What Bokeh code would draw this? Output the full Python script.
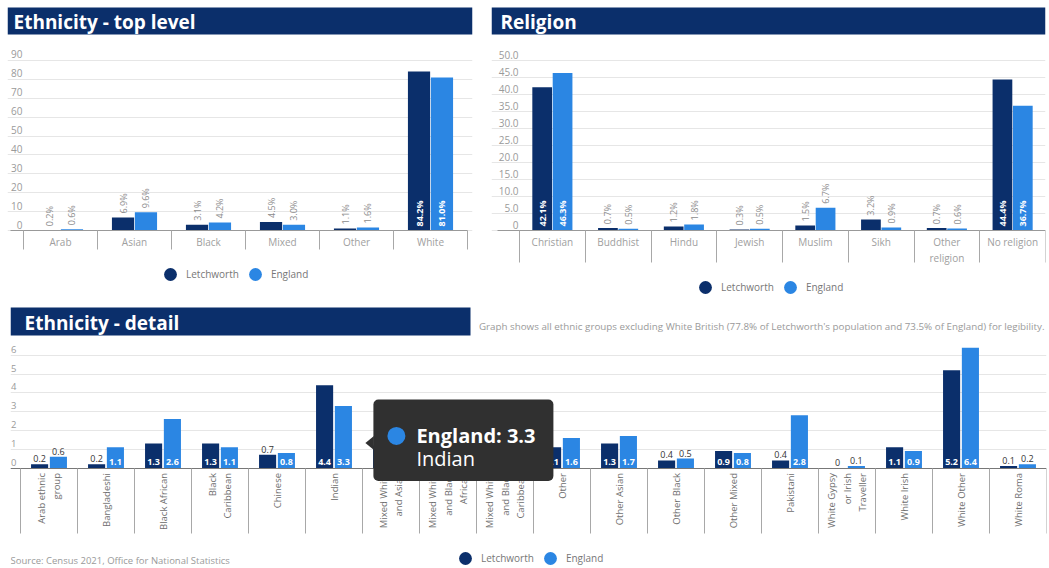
import math
from bokeh.plotting import figure
from bokeh.models import (Range1d, LinearAxis, FixedTicker, Grid, ColumnDataSource, LabelSet, Label,
                          BoxAnnotation, PolyAnnotation, Legend, LegendItem, NumeralTickFormatter)
from bokeh.layouts import column, row
from bokeh.transform import dodge
from bokeh.core.properties import value
from bokeh.embed import file_html
from bokeh.resources import INLINE

FONT = "Open Sans"
NAVY = "#0b2f6b"
BLUE = "#2b86e3"
GRID = "#e6e6e6"

# ---------------- data ----------------
top_categories = ["Arab", "Asian", "Black", "Mixed", "Other", "White"]
top_letchworth = [0.2, 6.9, 3.1, 4.5, 1.1, 84.2]
top_england = [0.6, 9.6, 4.2, 3.0, 1.6, 81.0]
top_y_ticks = [0, 10, 20, 30, 40, 50, 60, 70, 80, 90]

religion_categories = ["Christian", "Buddhist", "Hindu", "Jewish", "Muslim", "Sikh",
                       "Other\nreligion", "No religion"]
religion_letchworth = [42.1, 0.7, 1.2, 0.3, 1.5, 3.2, 0.7, 44.4]
religion_england = [46.3, 0.5, 1.8, 0.5, 6.7, 0.9, 0.6, 36.7]
religion_y_ticks = [0, 5, 10, 15, 20, 25, 30, 35, 40, 45, 50]

detail_categories = ["Arab ethnic\ngroup", "Bangladeshi", "Black African", "Black\nCaribbean",
                     "Chinese", "Indian", "Mixed White\nand Asian", "Mixed White\nand Black\nAfrican",
                     "Mixed White\nand Black\nCaribbean", "Other", "Other Asian", "Other Black",
                     "Other Mixed", "Pakistani", "White Gypsy\nor Irish\nTraveller", "White Irish",
                     "White Other", "White Roma"]
detail_letchworth = [0.2, 0.2, 1.3, 1.3, 0.7, 4.4, 1.2, 0.6, 1.7, 1.1, 1.3, 0.4, 0.9, 0.4, 0.0, 1.1, 5.2, 0.1]
detail_england = [0.6, 1.1, 2.6, 1.1, 0.8, 3.3, 0.8, 0.5, 0.9, 1.6, 1.7, 0.5, 0.8, 2.8, 0.1, 0.9, 6.4, 0.2]
detail_y_ticks = [0, 1, 2, 3, 4, 5, 6]

series_names = ["Letchworth", "England"]
hover_category = "Indian"
note_text = ("Graph shows all ethnic groups excluding White British (77.8% of Letchworth's "
             "population and 73.5% of England) for legibility.")
source_text = "Source: Census 2021, Office for National Statistics"


def chart(cats, letch, eng, y_ticks, c):
    n = len(cats)
    W, H = c["width"], c["height"]
    bl, br = c["border_left"], c["border_right"]
    ppu = c["px_unit"]
    cpx = c["cat_px"]
    fw = W - bl - br
    base = c["baseline"]          # px from top of figure to the zero line
    x0 = -0.5 - c["first_sep"] / cpx
    x1 = x0 + fw / cpx
    y1 = base / ppu
    yb = -(H - base) / ppu
    dx = 1.0 / cpx
    dy = 1.0 / ppu

    p = figure(width=W, height=H, x_range=Range1d(x0, x1), y_range=Range1d(yb, y1),
               x_axis_location=None, y_axis_location=None, toolbar_location=None,
               output_backend="svg", min_border_left=bl, min_border_right=br,
               min_border_top=0, min_border_bottom=0)
    p.title.visible = False
    p.outline_line_color = None
    p.grid.visible = False
    p.background_fill_color = "white"
    p.border_fill_color = "white"

    # gridlines
    p.add_layout(Grid(dimension=1, ticker=FixedTicker(ticks=y_ticks), grid_line_color=GRID,
                      grid_line_width=1))

    # y axis labels sitting just above the gridlines, inside the plot
    shift = c["ylab_shift"] * dy
    p.extra_y_ranges = {"ylab": Range1d(yb - shift, y1 - shift)}
    yax = LinearAxis(y_range_name="ylab", ticker=FixedTicker(ticks=y_ticks), fixed_location=x0,
                     axis_line_color=None, major_tick_line_color=None, minor_tick_line_color=None,
                     major_tick_in=0, major_tick_out=0, minor_tick_in=0, minor_tick_out=0,
                     major_label_standoff=-c["ylab_right"], major_label_text_font=FONT,
                     major_label_text_font_size=c["ylab_size"], major_label_text_color="#9a9a9a")
    if c.get("ylab_decimal"):
        yax.formatter = NumeralTickFormatter(format="0.0")
        yax.major_label_overrides = {0: "0"}
    p.add_layout(yax, "left")

    # category axis at zero: labels at centres, separators as minor ticks at boundaries
    xax = LinearAxis(ticker=FixedTicker(ticks=list(range(n)), minor_ticks=[i - 0.5 for i in range(n + 1)]),
                     fixed_location=0,
                     major_label_overrides={i: cat for i, cat in enumerate(cats)},
                     bounds=(x0 + c["axis_start_px"] * dx, n - 0.5),
                     axis_line_color=c["axis_color"], axis_line_width=1,
                     major_tick_line_color=None, major_tick_in=0, major_tick_out=0,
                     minor_tick_in=0, minor_tick_out=c["sep_len"], minor_tick_line_color="#a8a8a8",
                     major_label_standoff=c["xlab_gap"] - c["sep_len"], major_label_text_font=FONT,
                     major_label_text_font_size=c["xlab_size"], major_label_text_color=c["xlab_color"],
                     major_label_orientation=c["xlab_orient"])
    p.add_layout(xax, "below")

    # bars
    off = c["bar_off"]
    src = ColumnDataSource(dict(x=list(range(n)), letch=letch, eng=eng))
    p.vbar(x=dodge("x", -off), top="letch", width=c["bar_w"], source=src,
           fill_color=NAVY, line_color=None)
    p.vbar(x=dodge("x", off), top="eng", width=c["bar_w"], source=src,
           fill_color=BLUE, line_color=None)

    # value labels
    fmt = c["fmt"]
    thr = c["inside_thr"]
    for vals, o in ((letch, -off), (eng, off)):
        ins = [i for i, v in enumerate(vals) if v >= thr]
        outs = [i for i, v in enumerate(vals) if v < thr]
        s_in = ColumnDataSource(dict(x=ins, v=[vals[i] for i in ins], t=[fmt(vals[i]) for i in ins]))
        s_out = ColumnDataSource(dict(x=outs, v=[vals[i] for i in outs], t=[fmt(vals[i]) for i in outs]))
        if c["rot_labels"]:
            p.add_layout(LabelSet(x=dodge("x", o), y=0, text="t", source=s_in, angle=math.pi / 2,
                                  y_offset=4, text_align="left", text_baseline="middle",
                                  text_font=value(FONT), text_font_size=c["val_size"],
                                  text_font_style="bold", text_color="white"))
            p.add_layout(LabelSet(x=dodge("x", o), y="v", text="t", source=s_out, angle=math.pi / 2,
                                  y_offset=4, text_align="left", text_baseline="middle",
                                  text_font=value(FONT), text_font_size=c["val_size"],
                                  text_color="#8c8c8c"))
        else:
            p.add_layout(LabelSet(x=dodge("x", o), y=0, text="t", source=s_in,
                                  y_offset=6, text_align="center", text_baseline="middle",
                                  text_font=value(FONT), text_font_size=c["val_size"],
                                  text_font_style="bold", text_color="white"))
            p.add_layout(LabelSet(x=dodge("x", o), y="v", text="t", source=s_out,
                                  y_offset=2, text_align="center", text_baseline="bottom",
                                  text_font=value(FONT), text_font_size=c["val_size"],
                                  text_color="#333333"))

    # title bar
    t0, t1 = c["title_bar"]
    p.add_layout(BoxAnnotation(left=x0, right=x0 + c["title_bar_w"] * dx, top=y1 - t0 * dy,
                               bottom=y1 - t1 * dy, fill_color=NAVY, fill_alpha=1.0, line_color=None))
    p.add_layout(Label(x=x0, y=y1 - (t0 + t1) / 2 * dy, x_offset=c["title_x"], y_offset=-1,
                       text=c["title"], text_font=FONT, text_font_style="bold",
                       text_font_size=c["title_size"], text_color="white", text_baseline="middle"))

    # legend (circle markers; the marker renderers themselves are hidden)
    r1 = p.scatter(x=dodge("x", -off), y="letch", source=src, marker="circle", size=13,
                   fill_color=NAVY, line_color=None, visible=False)
    r2 = p.scatter(x=dodge("x", off), y="eng", source=src, marker="circle", size=13,
                   fill_color=BLUE, line_color=None, visible=False)
    leg = Legend(items=[LegendItem(label=series_names[0], renderers=[r1], index=0),
                        LegendItem(label=series_names[1], renderers=[r2], index=0)],
                 location=c["legend_loc"], orientation="horizontal", background_fill_alpha=0,
                 border_line_color=None, padding=0, margin=0, spacing=0, glyph_width=32,
                 glyph_height=32, label_height=14, label_standoff=0, label_text_font=FONT,
                 label_text_font_size="10px", label_text_color="#777777",
                 inactive_fill_alpha=0)
    p.add_layout(leg)
    p._geom = dict(x0=x0, x1=x1, y1=y1, dx=dx, dy=dy, off=off)
    return p


cfg_top = dict(width=486, height=300, border_left=7, border_right=14, baseline=230, px_unit=1.889,
               cat_px=74, first_sep=16, bar_w=0.30, bar_off=0.155, sep_len=19, axis_start_px=3,
               axis_color="#999999", xlab_gap=4, xlab_size="10px", xlab_color="#a0a0a0",
               xlab_orient="horizontal", ylab_shift=6, ylab_right=15, ylab_size="10px",
               fmt=lambda v: f"{v:.1f}%", inside_thr=20, rot_labels=True, val_size="9px",
               title="Ethnicity - top level", title_bar=(7, 34), title_bar_w=465, title_x=6,
               title_size="19px", legend_loc=(147, 10))
cfg_rel = dict(width=562, height=300, border_left=5, border_right=3, baseline=230, px_unit=3.4,
               cat_px=65.75, first_sep=28, bar_w=0.30, bar_off=0.155, sep_len=32, axis_start_px=6,
               axis_color="#999999", xlab_gap=4, xlab_size="10px", xlab_color="#a0a0a0",
               xlab_orient="horizontal", ylab_shift=6, ylab_right=27, ylab_size="10px", ylab_decimal=True,
               fmt=lambda v: f"{v:.1f}%", inside_thr=10, rot_labels=True, val_size="9px",
               title="Religion", title_bar=(7, 34), title_bar_w=554, title_x=9,
               title_size="19px", legend_loc=(198, -3))
cfg_det = dict(width=1048, height=267, border_left=10, border_right=2, baseline=167.5, px_unit=18.8,
               cat_px=57.0, first_sep=10, bar_w=0.30, bar_off=0.165, sep_len=65, axis_start_px=0,
               axis_color="#777777", xlab_gap=5, xlab_size="9.5px", xlab_color="#6e6e6e",
               xlab_orient=math.pi / 2, ylab_shift=6, ylab_right=6, ylab_size="9.5px",
               fmt=lambda v: f"{v:g}", inside_thr=0.75, rot_labels=False, val_size="9px",
               title="Ethnicity - detail", title_bar=(7, 35), title_bar_w=460, title_x=14,
               title_size="19px", legend_loc=(439, -7))

pa = chart(top_categories, top_letchworth, top_england, top_y_ticks, cfg_top)
pb = chart(religion_categories, religion_letchworth, religion_england, religion_y_ticks, cfg_rel)
pc = chart(detail_categories, detail_letchworth, detail_england, detail_y_ticks, cfg_det)

g = pc._geom
# note text (top right of detail chart)
pc.add_layout(Label(x=g["x1"], y=g["y1"] - 26 * g["dy"], x_offset=-2, text=note_text,
                    text_font=FONT, text_font_size="9.8px", text_color="#9a9a9a",
                    text_align="right", text_baseline="middle"))
# source text
pc.add_layout(Label(x=g["x0"], y=0, x_offset=0, y_offset=-92, text=source_text,
                    text_font=FONT, text_font_size="9.5px", text_color="#9a9a9a",
                    text_align="left", text_baseline="middle"))

# hover tooltip shown in the reference (England, Indian)
hi = detail_categories.index(hover_category)
hx = hi + g["off"]
hy = detail_england[hi]
dx, dy = g["dx"], g["dy"]
TIP = "#303030"
pc.add_layout(BoxAnnotation(left=hx + 30 * dx, right=hx + 210 * dx, top=hy + 6.5 * dy,
                            bottom=hy - 75 * dy, fill_color=TIP, fill_alpha=1.0,
                            line_color=None, border_radius=5))
pc.add_layout(PolyAnnotation(xs=[hx + 30.5 * dx, hx + 22 * dx, hx + 30.5 * dx],
                             ys=[hy - 30 * dy, hy - 37 * dy, hy - 44 * dy],
                             fill_color=TIP, fill_alpha=1.0, line_color=None))
pc.scatter(x=[hx + 53 * dx], y=[hy - 30 * dy], marker="circle", size=18, fill_color=BLUE,
           line_color=None, level="overlay")
pc.add_layout(Label(x=hx + 73 * dx, y=hy - 30 * dy, text=f"{series_names[1]}: {hy:g}",
                    text_font=FONT, text_font_style="bold", text_font_size="20px",
                    text_color="white", text_baseline="middle"))
pc.add_layout(Label(x=hx + 73 * dx, y=hy - 53 * dy, text=hover_category,
                    text_font=FONT, text_font_size="20px", text_color="white",
                    text_baseline="middle"))

layout = column(row(pa, pb), pc)
open("out.html", "w").write(file_html(layout, INLINE))
